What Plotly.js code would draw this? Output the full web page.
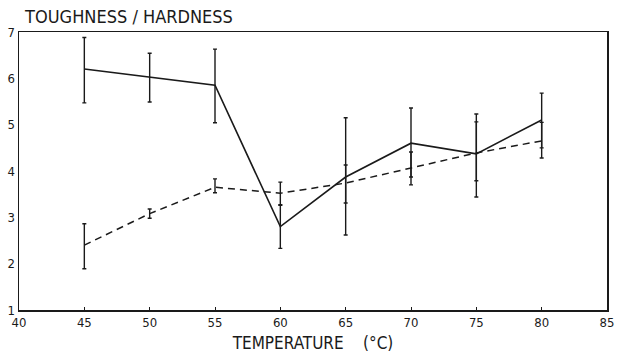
<!DOCTYPE html>
<html>
<head>
<meta charset="utf-8">
<script src="https://cdn.plot.ly/plotly-3.0.1.min.js"></script>
<style>html,body{margin:0;padding:0;background:#fff;}#chart{width:628px;height:358px;}</style>
</head>
<body>
<div id="chart"></div>
<script>
// Temperatures (°C)
const temperature = [45, 50, 55, 60, 65, 70, 75, 80];
// Toughness (solid line)
const toughness      = [6.20, 6.02, 5.85, 2.80, 3.87, 4.60, 4.37, 5.10];
const toughnessPlus  = [0.68, 0.52, 0.78, 0.46, 1.28, 0.76, 0.86, 0.58];
const toughnessMinus = [0.73, 0.53, 0.81, 0.47, 1.25, 0.73, 0.93, 0.60];
// Hardness (dashed line)
const hardness      = [2.40, 3.08, 3.65, 3.52, 3.74, 4.07, 4.39, 4.65];
const hardnessPlus  = [0.46, 0.10, 0.18, 0.24, 0.39, 0.34, 0.67, 0.40];
const hardnessMinus = [0.51, 0.10, 0.12, 0.25, 0.43, 0.37, 0.60, 0.37];

const xTicks = [40, 45, 50, 55, 60, 65, 70, 75, 80, 85];
const yTicks = [1, 2, 3, 4, 5, 6, 7];

const fontFam = '"DejaVu Sans Condensed", "Liberation Sans Narrow", "DejaVu Sans", sans-serif';

const traces = [
  {
    x: temperature, y: toughness, type: 'scatter', mode: 'lines',
    line: {color: '#1a1a1a', width: 1.6},
    error_y: {type: 'data', symmetric: false, array: toughnessPlus, arrayminus: toughnessMinus,
              color: '#1a1a1a', thickness: 1.4, width: 2},
    showlegend: false
  },
  {
    x: temperature, y: hardness, type: 'scatter', mode: 'lines',
    line: {color: '#1a1a1a', width: 1.5, dash: '7px,5px'},
    error_y: {type: 'data', symmetric: false, array: hardnessPlus, arrayminus: hardnessMinus,
              color: '#1a1a1a', thickness: 1.4, width: 2},
    showlegend: false
  }
];

const layout = {
  width: 628, height: 358,
  margin: {l: 19, r: 21, t: 32, b: 48},
  paper_bgcolor: '#fff', plot_bgcolor: '#fff',
  font: {family: fontFam, color: '#1a1a1a', size: 13},
  title: {text: 'TOUGHNESS / HARDNESS', x: 0.04, xanchor: 'left', y: 0.972, yanchor: 'top',
          font: {family: fontFam, size: 18, color: '#1a1a1a'}},
  xaxis: {
    range: [40, 85], tickvals: xTicks, ticktext: xTicks.map(String),
    showgrid: false, zeroline: false, showline: true, linecolor: '#1a1a1a', linewidth: 1.5,
    mirror: true, ticks: 'inside', ticklen: 3, tickcolor: '#1a1a1a',
    tickfont: {family: fontFam, size: 13},
    title: {text: 'TEMPERATURE &nbsp;&nbsp; (°C)', font: {family: fontFam, size: 17}, standoff: 8}
  },
  yaxis: {
    range: [1, 7], tickvals: yTicks, ticktext: yTicks.map(String),
    showgrid: false, zeroline: false, showline: true, linecolor: '#1a1a1a', linewidth: 1.5,
    mirror: true, ticks: '', ticklen: 0,
    tickfont: {family: fontFam, size: 13}
  }
};

Plotly.newPlot('chart', traces, layout, {displayModeBar: false, staticPlot: true});
</script>
</body>
</html>
